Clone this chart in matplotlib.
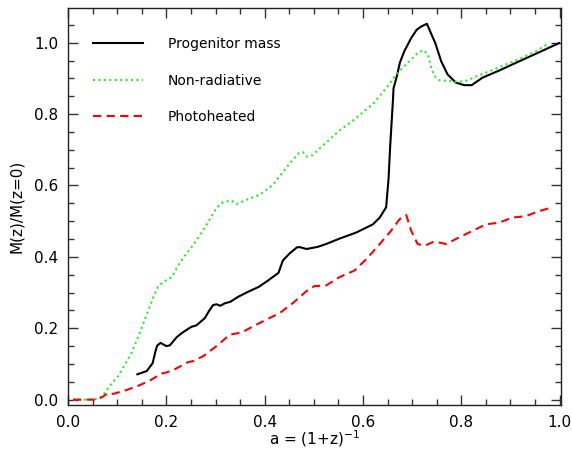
import matplotlib
matplotlib.use("Agg")
import matplotlib.pyplot as plt
from matplotlib.ticker import MultipleLocator

# Progenitor mass (black solid)
prog_a = [0.141, 0.160, 0.172, 0.177, 0.181, 0.188, 0.200, 0.207, 0.221, 0.231,
          0.244, 0.251, 0.261, 0.278, 0.288, 0.295, 0.302, 0.310, 0.319, 0.330,
          0.346, 0.363, 0.388, 0.407, 0.428, 0.437, 0.451, 0.466, 0.472, 0.485,
          0.508, 0.525, 0.552, 0.586, 0.620, 0.634, 0.647, 0.652, 0.655, 0.661,
          0.662, 0.669, 0.675, 0.684, 0.698, 0.709, 0.718, 0.730, 0.738, 0.747,
          0.759, 0.772, 0.789, 0.806, 0.821, 0.843, 0.877, 0.918, 0.958, 0.999]
prog_m = [0.071, 0.080, 0.102, 0.131, 0.151, 0.159, 0.150, 0.152, 0.175, 0.186,
          0.198, 0.204, 0.208, 0.228, 0.251, 0.265, 0.267, 0.263, 0.270, 0.274,
          0.288, 0.300, 0.316, 0.334, 0.355, 0.390, 0.410, 0.427, 0.427, 0.422,
          0.428, 0.436, 0.451, 0.468, 0.491, 0.510, 0.539, 0.620, 0.704, 0.842,
          0.872, 0.907, 0.944, 0.976, 1.013, 1.036, 1.045, 1.053, 1.027, 0.999,
          0.948, 0.911, 0.888, 0.881, 0.881, 0.902, 0.922, 0.948, 0.973, 0.999]

# Non-radiative (green dotted)
nonrad_a = [0.010, 0.051, 0.065, 0.075, 0.089, 0.102, 0.116, 0.129, 0.143, 0.156,
            0.166, 0.175, 0.183, 0.194, 0.211, 0.224, 0.238, 0.251, 0.265, 0.278,
            0.292, 0.302, 0.315, 0.332, 0.343, 0.363, 0.390, 0.400, 0.417, 0.434,
            0.451, 0.461, 0.471, 0.478, 0.485, 0.498, 0.508, 0.552, 0.576, 0.600,
            0.620, 0.637, 0.654, 0.667, 0.681, 0.698, 0.711, 0.723, 0.732, 0.738,
            0.745, 0.755, 0.776, 0.792, 0.809, 0.830, 0.857, 0.891, 0.924, 0.952,
            0.975]
nonrad_m = [0.000, 0.000, 0.005, 0.020, 0.046, 0.066, 0.099, 0.131, 0.177, 0.224,
            0.260, 0.293, 0.316, 0.330, 0.343, 0.376, 0.404, 0.427, 0.454, 0.482,
            0.514, 0.537, 0.553, 0.558, 0.548, 0.560, 0.574, 0.584, 0.602, 0.632,
            0.662, 0.678, 0.693, 0.693, 0.681, 0.685, 0.699, 0.754, 0.778, 0.805,
            0.828, 0.856, 0.884, 0.911, 0.930, 0.953, 0.971, 0.979, 0.967, 0.934,
            0.907, 0.895, 0.893, 0.890, 0.893, 0.905, 0.920, 0.939, 0.958, 0.976,
            0.996]

# Photoheated (red dashed)
photo_a = [0.010, 0.058, 0.068, 0.082, 0.092, 0.119, 0.143, 0.166, 0.190, 0.200,
           0.217, 0.244, 0.255, 0.275, 0.302, 0.329, 0.353, 0.376, 0.403, 0.430,
           0.457, 0.485, 0.501, 0.525, 0.552, 0.583, 0.607, 0.634, 0.657, 0.674,
           0.688, 0.698, 0.711, 0.725, 0.745, 0.769, 0.789, 0.823, 0.850, 0.877,
           0.904, 0.931, 0.958, 0.983]
photo_m = [0.000, 0.000, 0.006, 0.019, 0.016, 0.027, 0.039, 0.053, 0.073, 0.076,
           0.085, 0.105, 0.108, 0.122, 0.150, 0.182, 0.188, 0.205, 0.224, 0.242,
           0.270, 0.304, 0.318, 0.320, 0.343, 0.362, 0.394, 0.436, 0.473, 0.505,
           0.517, 0.473, 0.436, 0.431, 0.443, 0.436, 0.450, 0.473, 0.491, 0.496,
           0.510, 0.514, 0.528, 0.538]

plt.rcParams['font.family'] = ['DejaVu Sans']

fig = plt.figure(figsize=(5.72, 4.53), dpi=100)
ax = fig.add_axes([0.119, 0.106, 0.862, 0.877])

ax.plot(prog_a, prog_m, color='black', lw=1.5, label='Progenitor mass')
ax.plot(nonrad_a, nonrad_m, color='#22ee22', lw=1.5, dashes=(1, 1.6),
        label='Non-radiative')
ax.plot(photo_a, photo_m, color='#ff0000', lw=1.5, dashes=(4, 2.5),
        label='Photoheated')

ax.set_xlim(0, 1.003)
ax.set_ylim(-0.015, 1.098)
ax.xaxis.set_major_locator(MultipleLocator(0.2))
ax.xaxis.set_minor_locator(MultipleLocator(0.05))
ax.yaxis.set_major_locator(MultipleLocator(0.2))
ax.yaxis.set_minor_locator(MultipleLocator(0.05))
ax.tick_params(which='both', direction='in', top=True, right=True, labelsize=11,
               color='#333333', width=1)
ax.tick_params(which='major', length=7, pad=7)
ax.tick_params(which='minor', length=4)
for s in ax.spines.values():
    s.set_linewidth(1)
    s.set_color('#222222')

ax.set_xlabel(r'a = (1+z)$^{-1}$', fontsize=11, labelpad=-1)
ax.set_ylabel('M(z)/M(z=0)', fontsize=11, labelpad=7)

ax.legend(loc='upper left', bbox_to_anchor=(0.05, 0.926), frameon=False,
          fontsize=10, handlelength=3.6, handletextpad=1.8, labelspacing=1.62,
          borderaxespad=0, borderpad=0)

fig.savefig('out.png', dpi=100)
